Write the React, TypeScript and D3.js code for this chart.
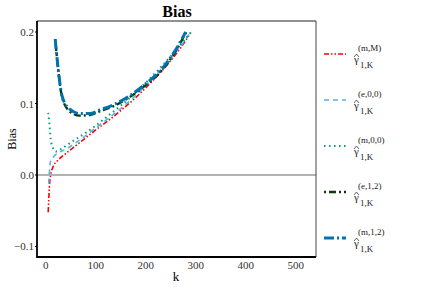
import React from "react";
import * as d3 from "d3";

const kRed = [5, 8, 10, 15, 25, 40, 60, 80, 100, 125, 150, 175, 200, 225, 250, 275, 289];
const vRed = [-0.052, -0.01, 0.0, 0.012, 0.021, 0.03, 0.041, 0.052, 0.063, 0.076, 0.09, 0.105, 0.122, 0.14, 0.16, 0.183, 0.198];

const kLightBlue = [6, 8, 10, 15, 25, 40, 60, 80, 100, 125, 150, 175, 200, 225, 250, 275, 289];
const vLightBlue = [-0.012, 0.01, 0.02, 0.025, 0.031, 0.036, 0.045, 0.055, 0.066, 0.079, 0.093, 0.108, 0.125, 0.143, 0.163, 0.185, 0.199];

const kGreen = [5, 7, 10, 15, 20, 30, 45, 60, 80, 100, 125, 150, 175, 200, 225, 250, 275, 291];
const vGreen = [0.087, 0.075, 0.05, 0.037, 0.033, 0.036, 0.043, 0.05, 0.059, 0.069, 0.083, 0.097, 0.112, 0.129, 0.147, 0.166, 0.187, 0.2];

const kDarkGreen = [19, 25, 33, 48, 68, 88, 108, 138, 168, 199, 228, 258, 281];
const vDarkGreen = [0.19, 0.147, 0.108, 0.089, 0.083, 0.084, 0.089, 0.097, 0.109, 0.125, 0.143, 0.171, 0.2];

const kBlue = [19, 25, 33, 48, 68, 88, 108, 138, 168, 199, 228, 258, 280];
const vBlue = [0.19, 0.148, 0.11, 0.092, 0.086, 0.086, 0.091, 0.099, 0.111, 0.127, 0.145, 0.173, 0.2];

const seriesNames = ["(m,M)", "(e,0,0)", "(m,0,0)", "(e,1,2)", "(m,1,2)"];
const xTicks = [0, 100, 200, 300, 400, 500];
const yTicks = [-0.1, 0.0, 0.1, 0.2];

const styles = [
  { color: "#FF0000", width: 1.6, dash: "5,2,1.5,2,1.5,2" },
  { color: "#56B4E9", width: 1.6, dash: "5,4" },
  { color: "#009E73", width: 2, dash: "1.5,3.5" },
  { color: "#0B3B0B", width: 2.4, dash: "2,3,7,3" },
  { color: "#0072B2", width: 3, dash: "10,3,2,3" },
];

const FONT = "'Liberation Serif', 'Times New Roman', serif";

export default function App() {
  const L = 37, T = 21, R = 316, B = 257;
  const x = d3.scaleLinear().domain([-17.4, 540.6]).range([L, R]);
  const y = d3.scaleLinear().domain([-0.1147, 0.2154]).range([B, T]);
  const line = d3.line<[number, number]>().x(d => x(d[0])).y(d => y(d[1])).curve(d3.curveMonotoneX);

  const data: [number, number][][] = [
    kRed.map((k, i) => [k, vRed[i]]),
    kLightBlue.map((k, i) => [k, vLightBlue[i]]),
    kGreen.map((k, i) => [k, vGreen[i]]),
    kDarkGreen.map((k, i) => [k, vDarkGreen[i]]),
    kBlue.map((k, i) => [k, vBlue[i]]),
  ];

  const fmt = (v: number) => (v < 0 ? "\u2212" : "") + Math.abs(v).toFixed(1);
  const legendY = (i: number) => 54 + 46 * i;

  return (
    <svg width={425} height={300} style={{ position: "absolute", left: 0, top: 0, background: "#fff", fontFamily: FONT }}>
      <rect x={0} y={0} width={425} height={300} fill="#fff" />
      <text x={177} y={17} textAnchor="middle" fontSize={16} fontWeight="bold" style={{ fontFamily: FONT }}>Bias</text>
      <line x1={L} x2={R} y1={y(0)} y2={y(0)} stroke="#666" strokeWidth={1} />
      <line x1={L} x2={R} y1={T} y2={T} stroke="#222" strokeWidth={1} />
      <line x1={R} x2={R} y1={T} y2={B} stroke="#444" strokeWidth={1} />
      <line x1={L} x2={L} y1={T} y2={B + 1} stroke="#000" strokeWidth={1.8} />
      <line x1={L} x2={R} y1={B} y2={B} stroke="#000" strokeWidth={1.8} />
      {yTicks.map(t => (
        <g key={t}>
          <line x1={L - 2} x2={L} y1={y(t)} y2={y(t)} stroke="#000" strokeWidth={1} />
          <text x={L - 3} y={y(t) + 4} textAnchor="end" fontSize={11} fill="#333" style={{ fontFamily: FONT }}>{fmt(t)}</text>
        </g>
      ))}
      {xTicks.map(t => (
        <text key={t} x={x(t)} y={269} textAnchor="middle" fontSize={11} fill="#333" style={{ fontFamily: FONT }}>{t}</text>
      ))}
      <text x={176} y={281} textAnchor="middle" fontSize={13} style={{ fontFamily: FONT }}>k</text>
      <text transform="translate(16,139) rotate(-90)" textAnchor="middle" fontSize={12} style={{ fontFamily: FONT }}>Bias</text>
      {data.map((d, i) => (
        <path key={i} d={line(d) || ""} fill="none" stroke={styles[i].color} strokeWidth={styles[i].width}
          strokeDasharray={styles[i].dash} />
      ))}
      {seriesNames.map((n, i) => {
        const ly = legendY(i);
        const s = styles[i];
        return (
          <g key={n}>
            <line x1={324} x2={346} y1={ly} y2={ly} stroke={s.color} strokeWidth={s.width} strokeDasharray={s.dash} />
            <path d={`M354,${ly + 3} L356.5,${ly} L359,${ly + 3}`} fill="none" stroke="#222" strokeWidth={0.7} />
            <text x={354} y={ly + 9} fontSize={11} fill="#222" style={{ fontFamily: FONT }}>γ</text>
            <text x={358} y={ly - 3} fontSize={9} fill="#222" style={{ fontFamily: FONT }}>{n}</text>
            <text x={360} y={ly + 14} fontSize={9} fill="#222" style={{ fontFamily: FONT }}>1,K</text>
          </g>
        );
      })}
    </svg>
  );
}
